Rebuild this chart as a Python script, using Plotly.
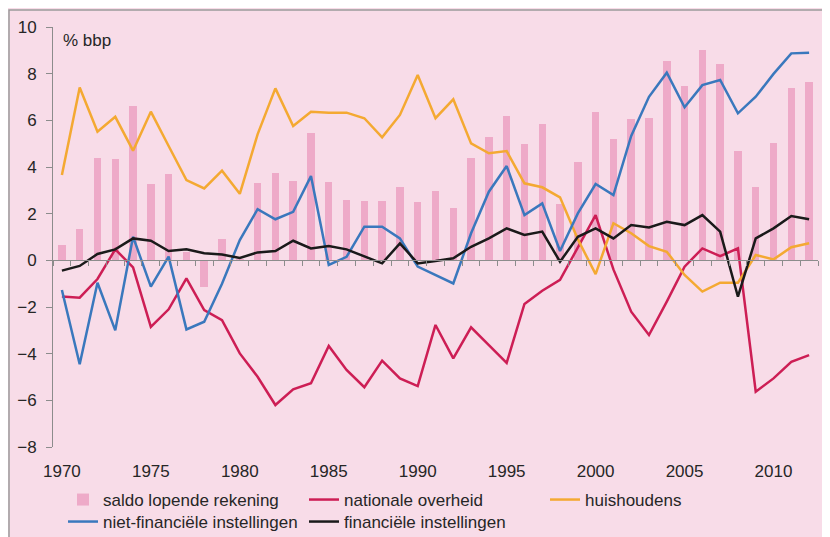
import plotly.graph_objects as go

# jaren en reeksen (% bbp)
jaren = list(range(1970, 2013))

saldo_lopende_rekening = [
    0.66, 1.33, 4.4, 4.33, 6.61, 3.27, 3.68, 0.37, -1.13, 0.9,
    0.05, 3.33, 3.73, 3.4, 5.47, 3.34, 2.58, 2.56, 2.56, 3.16,
    2.51, 2.98, 2.23, 4.37, 5.27, 6.18, 4.98, 5.84, 2.41, 4.2,
    6.34, 5.19, 6.06, 6.11, 8.56, 7.47, 9.01, 8.41, 4.7, 3.13,
    5.01, 7.37, 7.66,
]
nationale_overheid = [
    -1.55, -1.6, -0.8, 0.47, -0.3, -2.85, -2.1, -0.77, -2.13, -2.56,
    -3.99, -4.99, -6.2, -5.53, -5.27, -3.67, -4.7, -5.44, -4.3, -5.06,
    -5.39, -2.77, -4.2, -2.87, -3.63, -4.39, -1.87, -1.3, -0.84, 0.58,
    1.94, -0.39, -2.2, -3.2, -1.77, -0.27, 0.51, 0.18, 0.51, -5.63,
    -5.06, -4.35, -4.06,
]
huishoudens = [
    3.66, 7.41, 5.51, 6.15, 4.7, 6.37, 4.9, 3.44, 3.08, 3.84,
    2.85, 5.4, 7.37, 5.76, 6.37, 6.33, 6.33, 6.09, 5.27, 6.23,
    7.94, 6.09, 6.9, 5.01, 4.59, 4.68, 3.3, 3.13, 2.7, 0.9,
    -0.59, 1.59, 1.16, 0.61, 0.37, -0.63, -1.34, -0.96, -0.96, 0.23,
    0.04, 0.56, 0.73,
]
niet_financiele_instellingen = [
    -1.27, -4.45, -0.96, -3.0, 1.01, -1.13, 0.16, -2.96, -2.63, -1.0,
    0.87, 2.19, 1.76, 2.08, 3.61, -0.2, 0.15, 1.44, 1.44, 0.94,
    -0.27, -0.63, -0.99, 1.16, 2.94, 4.04, 1.94, 2.44, 0.4, 2.01,
    3.27, 2.8, 5.33, 7.01, 8.04, 6.56, 7.51, 7.73, 6.3, 7.01,
    7.99, 8.87, 8.9,
]
financiele_instellingen = [
    -0.44, -0.24, 0.27, 0.47, 0.94, 0.84, 0.4, 0.47, 0.3, 0.25,
    0.1, 0.34, 0.4, 0.84, 0.51, 0.61, 0.47, 0.16, -0.13, 0.73,
    -0.13, -0.03, 0.09, 0.58, 0.94, 1.37, 1.09, 1.23, -0.06, 1.01,
    1.37, 0.94, 1.51, 1.41, 1.65, 1.51, 1.94, 1.23, -1.56, 0.94,
    1.37, 1.9, 1.76,
]
x_labels = [1970, 1975, 1980, 1985, 1990, 1995, 2000, 2005, 2010]

# opmaak (de pagina heeft 8px marge, die vormt de witte rand)
OFF = 8
W, H = 830 - OFF, 537 - OFF
ML, MR, MT, MB = 53 - OFF, 12, 27 - OFF, 90
PW, PH = W - ML - MR, H - MT - MB
roze = "#f8dce8"
grijs = "#8c8c8c"
lettertype = dict(family="Liberation Sans, Arial, sans-serif", size=17, color="#262626")


# schermpixels -> paper-coordinaten
def px_x(p):
    return (p - OFF - ML) / PW


def px_y(p):
    return (H - MB - (p - OFF)) / PH


fig = go.Figure()

fig.add_trace(go.Bar(x=jaren, y=saldo_lopende_rekening, name="saldo lopende rekening",
                     marker=dict(color="#eeaac8", line=dict(width=0)), width=0.42,
                     legend="legend"))
fig.add_trace(go.Scatter(x=jaren, y=nationale_overheid, name="nationale overheid", mode="lines",
                         line=dict(color="#cd1e55", width=2.5), legend="legend"))
fig.add_trace(go.Scatter(x=jaren, y=huishoudens, name="huishoudens", mode="lines",
                         line=dict(color="#f4a932", width=2.5), legend="legend"))
fig.add_trace(go.Scatter(x=jaren, y=niet_financiele_instellingen, name="niet-financiële instellingen",
                         mode="lines", line=dict(color="#3a78bd", width=2.5), legend="legend2"))
# op x2 zodat de lijn bovenop ligt en de nul-as met streepjes getekend wordt
fig.add_trace(go.Scatter(x=jaren, y=financiele_instellingen, name="financiële instellingen",
                         mode="lines", line=dict(color="#1a1a1a", width=2.5), legend="legend2",
                         xaxis="x2"))

fig.add_annotation(text="% bbp", xref="paper", yref="paper", x=px_x(61), y=px_y(40),
                   xanchor="left", yanchor="middle", showarrow=False, font=lettertype)

# kader rond de roze achtergrond
fig.add_shape(type="rect", xref="paper", yref="paper", layer="below",
              x0=px_x(9), x1=px_x(832), y0=px_y(545), y1=px_y(10),
              fillcolor=roze, line=dict(color="#9a9a9a", width=1.5))

fig.update_layout(
    width=W, height=H,
    margin=dict(l=ML, r=MR, t=MT, b=MB, autoexpand=False),
    paper_bgcolor=roze,
    plot_bgcolor=roze,
    font=lettertype,
    bargap=0,
    xaxis=dict(range=[1969.5, 2012.5], tickvals=x_labels, ticks="", showline=False,
               showgrid=False, zeroline=False, ticklabelstandoff=12),
    xaxis2=dict(range=[1969.5, 2012.5], overlaying="x", anchor="free", position=8 / 18,
                side="bottom", tickmode="linear", tick0=1969.5, dtick=1, ticks="outside",
                ticklen=5, tickcolor=grijs, showline=True, linecolor=grijs, linewidth=1,
                showticklabels=False, showgrid=False, zeroline=False),
    yaxis=dict(range=[-8, 10], dtick=2, ticks="outside", ticklen=6, tickcolor=grijs,
               showline=True, linecolor=grijs, linewidth=1, showgrid=False, zeroline=False,
               ticklabelstandoff=6),
    legend=dict(orientation="h", x=px_x(63), y=px_y(482), xanchor="left", yanchor="top",
                entrywidth=196, entrywidthmode="pixels", bgcolor="rgba(0,0,0,0)",
                font=lettertype, traceorder="normal"),
    legend2=dict(orientation="h", x=px_x(63), y=px_y(504), xanchor="left", yanchor="top",
                 entrywidth=196, entrywidthmode="pixels", bgcolor="rgba(0,0,0,0)",
                 font=lettertype, traceorder="normal"),
)

fig.write_html("out.html")
